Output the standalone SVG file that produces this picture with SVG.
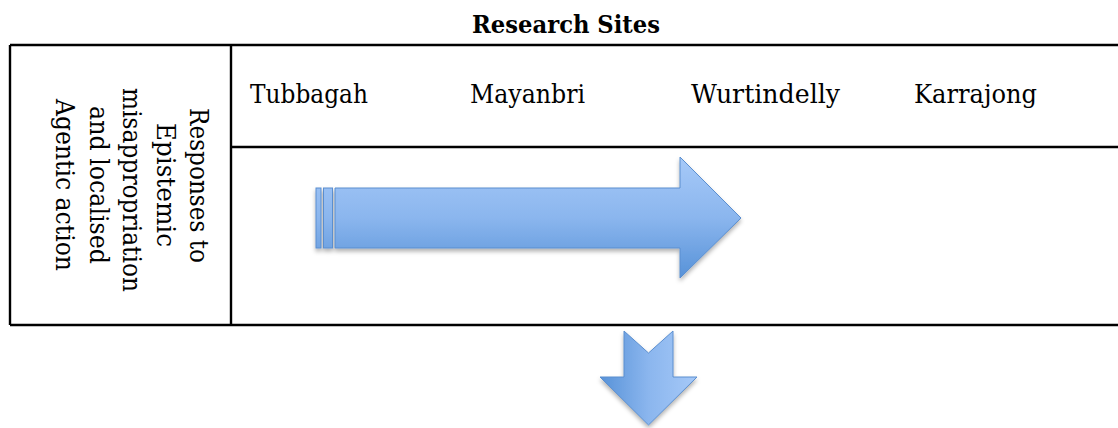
<svg xmlns="http://www.w3.org/2000/svg" width="1118" height="428" viewBox="0 0 1118 428">
  <defs>
    <style>
      .rule { stroke: #000; stroke-width: 2.4; fill: none; }
      .site { font-family: "DejaVu Serif", "Liberation Serif", serif; font-size: 26px; fill: #000; }
      .side { font-family: "DejaVu Serif", "Liberation Serif", serif; font-size: 26px; fill: #000; }
      .title { font-family: "DejaVu Serif", "Liberation Serif", serif; font-size: 25px; font-weight: bold; fill: #000; }
      .shape { stroke: #5a8ecf; stroke-width: 1; stroke-linejoin: miter; }
    </style>
    <!-- light top, darker bottom, as on the horizontal arrow -->
    <linearGradient id="gradH" gradientUnits="userSpaceOnUse" x1="0" y1="157" x2="0" y2="278">
      <stop offset="0" stop-color="#a6c9f8"/>
      <stop offset="0.5" stop-color="#8bb6ee"/>
      <stop offset="1" stop-color="#5792d8"/>
    </linearGradient>
    <!-- same fill turned a quarter: dark left, light right -->
    <linearGradient id="gradV" gradientUnits="userSpaceOnUse" x1="600" y1="0" x2="697" y2="0">
      <stop offset="0" stop-color="#5792d8"/>
      <stop offset="0.5" stop-color="#8bb6ee"/>
      <stop offset="1" stop-color="#a6c9f8"/>
    </linearGradient>
    <filter id="shadow" x="-10%" y="-20%" width="130%" height="150%">
      <feDropShadow dx="0" dy="3" stdDeviation="2" flood-color="#000" flood-opacity="0.3"/>
    </filter>
  </defs>

  <!-- heading -->
  <g id="title">
    <text class="title" x="472" y="33" textLength="188" lengthAdjust="spacingAndGlyphs">Research Sites</text>
  </g>

  <!-- table rules -->
  <g id="table">
    <line class="rule" x1="10" y1="45" x2="1118" y2="45"/>
    <line class="rule" x1="10" y1="325" x2="1118" y2="325"/>
    <line class="rule" x1="10" y1="45" x2="10" y2="325"/>
    <line class="rule" x1="231" y1="45" x2="231" y2="325"/>
    <line class="rule" x1="231" y1="147" x2="1118" y2="147"/>
  </g>

  <!-- row heading, turned to read downwards -->
  <g id="row-label">
    <text class="side" transform="translate(190,108) rotate(90)" textLength="155" lengthAdjust="spacingAndGlyphs">Responses to</text>
    <text class="side" transform="translate(156.5,123) rotate(90)" textLength="124" lengthAdjust="spacingAndGlyphs">Epistemic</text>
    <text class="side" transform="translate(123,88) rotate(90)" textLength="204" lengthAdjust="spacingAndGlyphs">misappropriation</text>
    <text class="side" transform="translate(89.5,106) rotate(90)" textLength="158" lengthAdjust="spacingAndGlyphs">and localised</text>
    <text class="side" transform="translate(56,99) rotate(90)" textLength="172" lengthAdjust="spacingAndGlyphs">Agentic action</text>
  </g>

  <!-- site names -->
  <g id="site-tubbagah"><text class="site" x="250" y="103" textLength="118" lengthAdjust="spacingAndGlyphs">Tubbagah</text></g>
  <g id="site-mayanbri"><text class="site" x="470" y="103" textLength="115" lengthAdjust="spacingAndGlyphs">Mayanbri</text></g>
  <g id="site-wurtindelly"><text class="site" x="691" y="103" textLength="149" lengthAdjust="spacingAndGlyphs">Wurtindelly</text></g>
  <g id="site-karrajong"><text class="site" x="914" y="103" textLength="123" lengthAdjust="spacingAndGlyphs">Karrajong</text></g>

  <!-- block arrows -->
  <g id="connectors">
    <g id="arrow-right" filter="url(#shadow)">
      <rect class="shape" x="316" y="188" width="5" height="60" fill="url(#gradH)"/>
      <rect class="shape" x="323.5" y="188" width="9" height="60" fill="url(#gradH)"/>
      <path class="shape" d="M335,188 H680 V157 L741,218 L680,278 V248 H335 Z" fill="url(#gradH)"/>
    </g>
    <g id="arrow-down" filter="url(#shadow)">
      <path class="shape" d="M624,331 L648.5,353 L673,331 V377 H697 L648.5,425 L600,377 H624 Z" fill="url(#gradV)"/>
    </g>
  </g>
</svg>
